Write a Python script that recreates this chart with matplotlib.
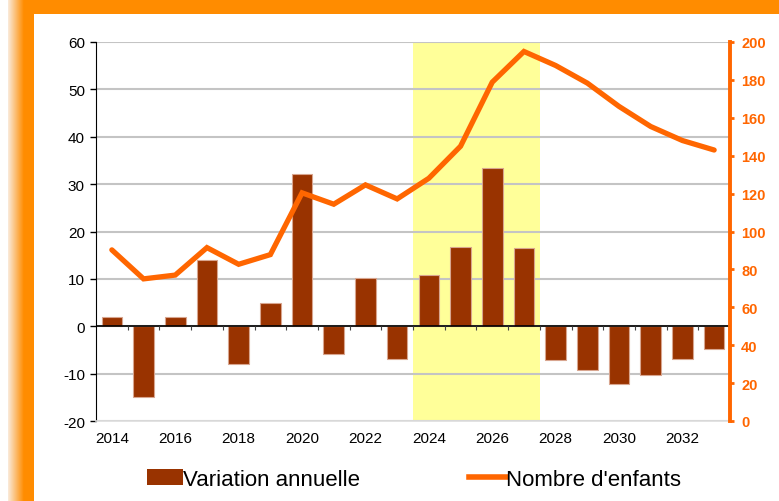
import matplotlib
matplotlib.use('Agg')
import matplotlib.pyplot as plt
import matplotlib.colors as mcolors
import numpy as np
from matplotlib.patches import Rectangle, Patch
from matplotlib.lines import Line2D

plt.rcParams['font.family'] = ['Liberation Sans', 'DejaVu Sans']
plt.rcParams['axes.unicode_minus'] = False

years = list(range(2014, 2034))
variation = [2, -15, 2, 14, -8, 5, 32.2, -5.9, 10.1, -6.9,
             10.8, 16.8, 33.3, 16.5, -7.2, -9.3, -12.2, -10.3, -6.9, -4.8]
enfants = [90.3, 75, 77, 91.5, 82.7, 87.8, 120.4, 114.4, 124.6, 117.2,
           128.1, 145, 178.8, 195, 187.6, 178.3, 166, 155.4, 148, 143]
xtick_years = years[::2]
highlight = (2024, 2027)
left_ticks = list(range(-20, 61, 10))
right_ticks = list(range(0, 201, 20))

W, H = 779, 502
fig = plt.figure(figsize=(W / 100, H / 100), dpi=100)

# decorative frame
orange = '#FF8C00'
bg = fig.add_axes([0, 0, 1, 1], zorder=-10)
bg.axis('off')
bg.add_patch(Rectangle((24, 0), W - 24, 15, color=orange, lw=0))
bg.add_patch(Rectangle((24, 0), 10, H, color=orange, lw=0))
g = np.linspace(0, 1, 64)
c0 = np.array([0.98, 0.92, 0.86])
c1 = np.array(mcolors.to_rgb(orange))
img = (c0[None, :] * (1 - g[:, None]) + c1[None, :] * g[:, None])[None, :, :]
bg.imshow(img, extent=(8, 24, H, 0), aspect='auto')
bg.set_xlim(0, W)
bg.set_ylim(H, 0)

ax = fig.add_axes([96 / W, 80 / H, (730 - 96) / W, (422 - 43) / H])
x = np.arange(len(years))
i0, i1 = years.index(highlight[0]), years.index(highlight[1])
ax.axvspan(i0 - 0.5, i1 + 0.5, color='#FFFF99', lw=0, zorder=0)
ax.set_axisbelow(True)
ax.bar(x, variation, width=0.65, color='#993300', edgecolor='#D8A58F',
       linewidth=0.8, zorder=2)
ax.set_ylim(-20, 60)
ax.set_xlim(-0.5, len(years) - 0.5)
ax.set_yticks(left_ticks)
ax.yaxis.grid(True, color='#C4C4C4', lw=1.5)
ax.axhline(0, color='black', lw=1.2, zorder=3)
ax.vlines(x[1:] - 0.5, -0.7, 0, color='#444444', lw=0.8, zorder=3)

ax.set_xticks([years.index(y) for y in xtick_years])
ax.set_xticklabels([str(y) for y in xtick_years])
ax.tick_params(axis='x', length=0, pad=7, labelsize=11, colors='black')
ax.tick_params(axis='y', length=4, width=1, direction='out', labelsize=11,
               colors='black', pad=4)
for s in ['top', 'right']:
    ax.spines[s].set_visible(False)
ax.spines['left'].set_color('black')
ax.spines['bottom'].set_color('#DDDDDD')
ax.spines['bottom'].set_linewidth(1.2)

ax2 = ax.twinx()
ax2.plot(x, enfants, color='#FF6600', lw=3.8, solid_capstyle='round',
         solid_joinstyle='miter', zorder=5)
ax2.set_ylim(0, 200)
ax2.set_yticks(right_ticks)
for s in ['top', 'left', 'bottom']:
    ax2.spines[s].set_visible(False)
ax2.spines['right'].set_color('#FF6600')
ax2.spines['right'].set_linewidth(2.8)
ax2.tick_params(axis='y', colors='#FF6600', length=3, width=2, pad=5)
for lab in ax2.get_yticklabels():
    lab.set_fontweight('bold')
    lab.set_fontsize(10.5)

handles = [Patch(facecolor='#993300', label='Variation annuelle'),
           Line2D([], [], color='#FF6600', lw=4, label="Nombre d'enfants")]
fig.legend(handles=handles, loc='center', bbox_to_anchor=(0.531, 0.043),
           ncol=2, frameon=False, fontsize=16, handlelength=1.65,
           handletextpad=0.0, columnspacing=4.9, borderpad=0.2)

fig.savefig('out.png', dpi=100)
